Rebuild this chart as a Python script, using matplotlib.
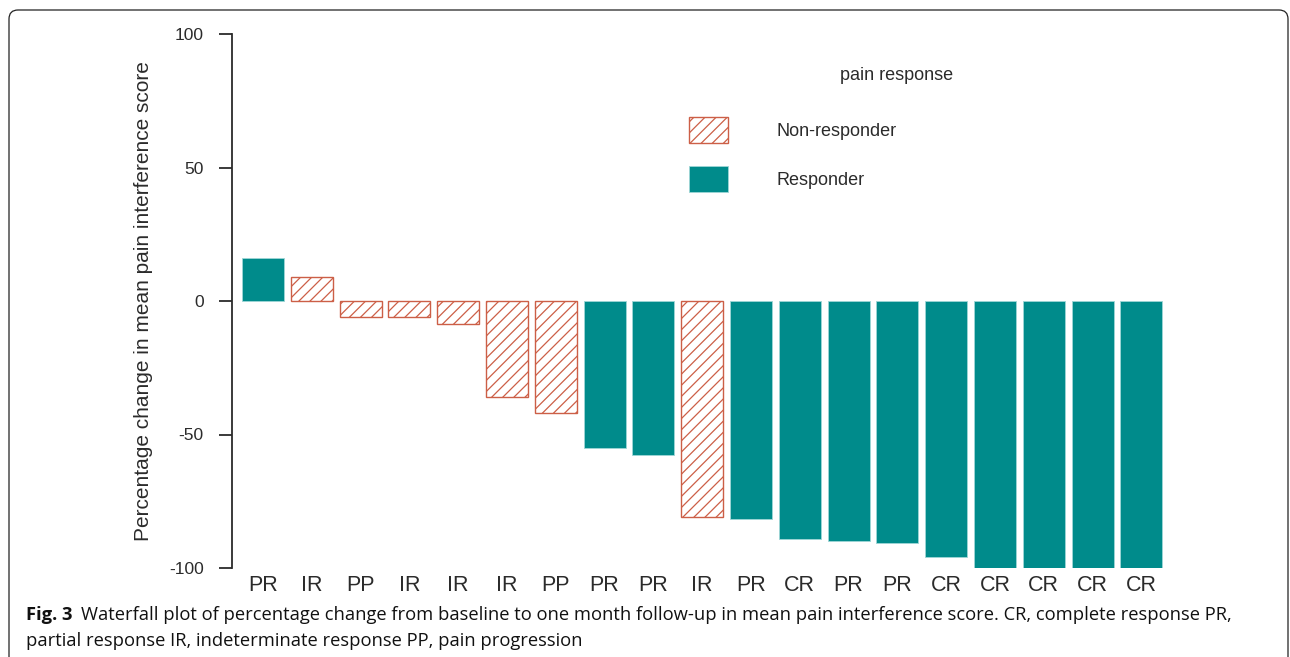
import matplotlib
matplotlib.use("Agg")
import matplotlib.pyplot as plt
from matplotlib.patches import Patch, FancyBboxPatch

# data
labels = ["PR", "IR", "PP", "IR", "IR", "IR", "PP", "PR", "PR", "IR",
          "PR", "CR", "PR", "PR", "CR", "CR", "CR", "CR", "CR"]
change = [16, 9, -6, -6, -8.5, -36, -42, -55, -57.5, -81,
          -81.5, -89, -90, -90.5, -96, -100, -100, -100, -100]
responder = [1, 0, 0, 0, 0, 0, 0, 1, 1, 0,
             1, 1, 1, 1, 1, 1, 1, 1, 1]
yticks = [100, 50, 0, -50, -100]

teal = "#008b8b"
coral = "#cc5f47"
ink = "#2b2b2b"

plt.rcParams["font.family"] = ["Liberation Sans", "DejaVu Sans"]
plt.rcParams["hatch.linewidth"] = 0.9

fig = plt.figure(figsize=(12.9, 6.57), dpi=100)
W, H = 1290, 657
ax = fig.add_axes([232 / W, 1 - 568 / H, (1175 - 232) / W, (568 - 34) / H])

x = list(range(len(change)))
for i in x:
    if responder[i]:
        ax.bar(i, change[i], width=0.86, color=teal, edgecolor="#9fd6d6", linewidth=0.6)
    else:
        ax.bar(i, change[i], width=0.86, facecolor="white", edgecolor=coral,
               hatch="///", linewidth=1.0)

ax.set_xlim(-0.635, 18.69)
ax.set_ylim(-100, 100)
ax.set_yticks(yticks)
ax.set_yticklabels([str(v) for v in yticks])
ax.set_xticks(x)
ax.set_xticklabels(labels)

for s in ["top", "right", "bottom"]:
    ax.spines[s].set_visible(False)
ax.spines["left"].set_color(ink)
ax.spines["left"].set_linewidth(1.3)
ax.tick_params(axis="y", length=9.5, width=1.3, color=ink, pad=11,
               labelsize=12.5, labelcolor=ink)
ax.tick_params(axis="x", length=0, pad=5, labelsize=15.5, labelcolor=ink)

ax.set_ylabel("Percentage change in mean pain interference score",
              fontsize=15, color=ink)
ax.yaxis.set_label_coords((153 - 232) / (1175 - 232), 0.5)

# legend
handles = [Patch(facecolor="white", edgecolor=coral, hatch="///", linewidth=1.0),
           Patch(facecolor=teal, edgecolor="#9fd6d6", linewidth=0.6)]
ax.legend(handles, ["Non-responder", "Responder"], loc="upper left",
          bbox_to_anchor=(689 / W, 1 - 117 / H), bbox_transform=fig.transFigure,
          frameon=False, fontsize=13, handlelength=2.16, handleheight=1.85,
          handletextpad=2.66, labelspacing=1.25, borderpad=0, borderaxespad=0,
          labelcolor=ink)
fig.text(897 / W, 1 - 76 / H, "pain response", fontsize=13, color=ink,
         ha="center", va="center")

# outer frame
frame = FancyBboxPatch((0.09, -0.3), 12.79, 6.47 + 0.3,
                       boxstyle="round,pad=0,rounding_size=0.09",
                       transform=fig.dpi_scale_trans, facecolor="none",
                       edgecolor="#222222", linewidth=0.9, clip_on=False)
fig.patches.append(frame)

# caption
cap_font = ["Open Sans", "DejaVu Sans"]
t1 = fig.text(26 / W, 1 - 620 / H, "Fig. 3", fontsize=13.2, fontweight="bold",
              family=cap_font, color="#111111", va="baseline")
ax.annotate("Waterfall plot of percentage change from baseline to one month follow-up "
            "in mean pain interference score. CR, complete response PR,",
            xy=(1, 0), xycoords=t1, xytext=(6, 0), textcoords="offset points",
            fontsize=13.2, family=cap_font, color="#111111", va="bottom",
            annotation_clip=False)
fig.text(26 / W, 1 - 646 / H,
         "partial response IR, indeterminate response PP, pain progression",
         fontsize=13.2, family=cap_font, color="#111111", va="baseline")

fig.savefig("out.png", dpi=100)
